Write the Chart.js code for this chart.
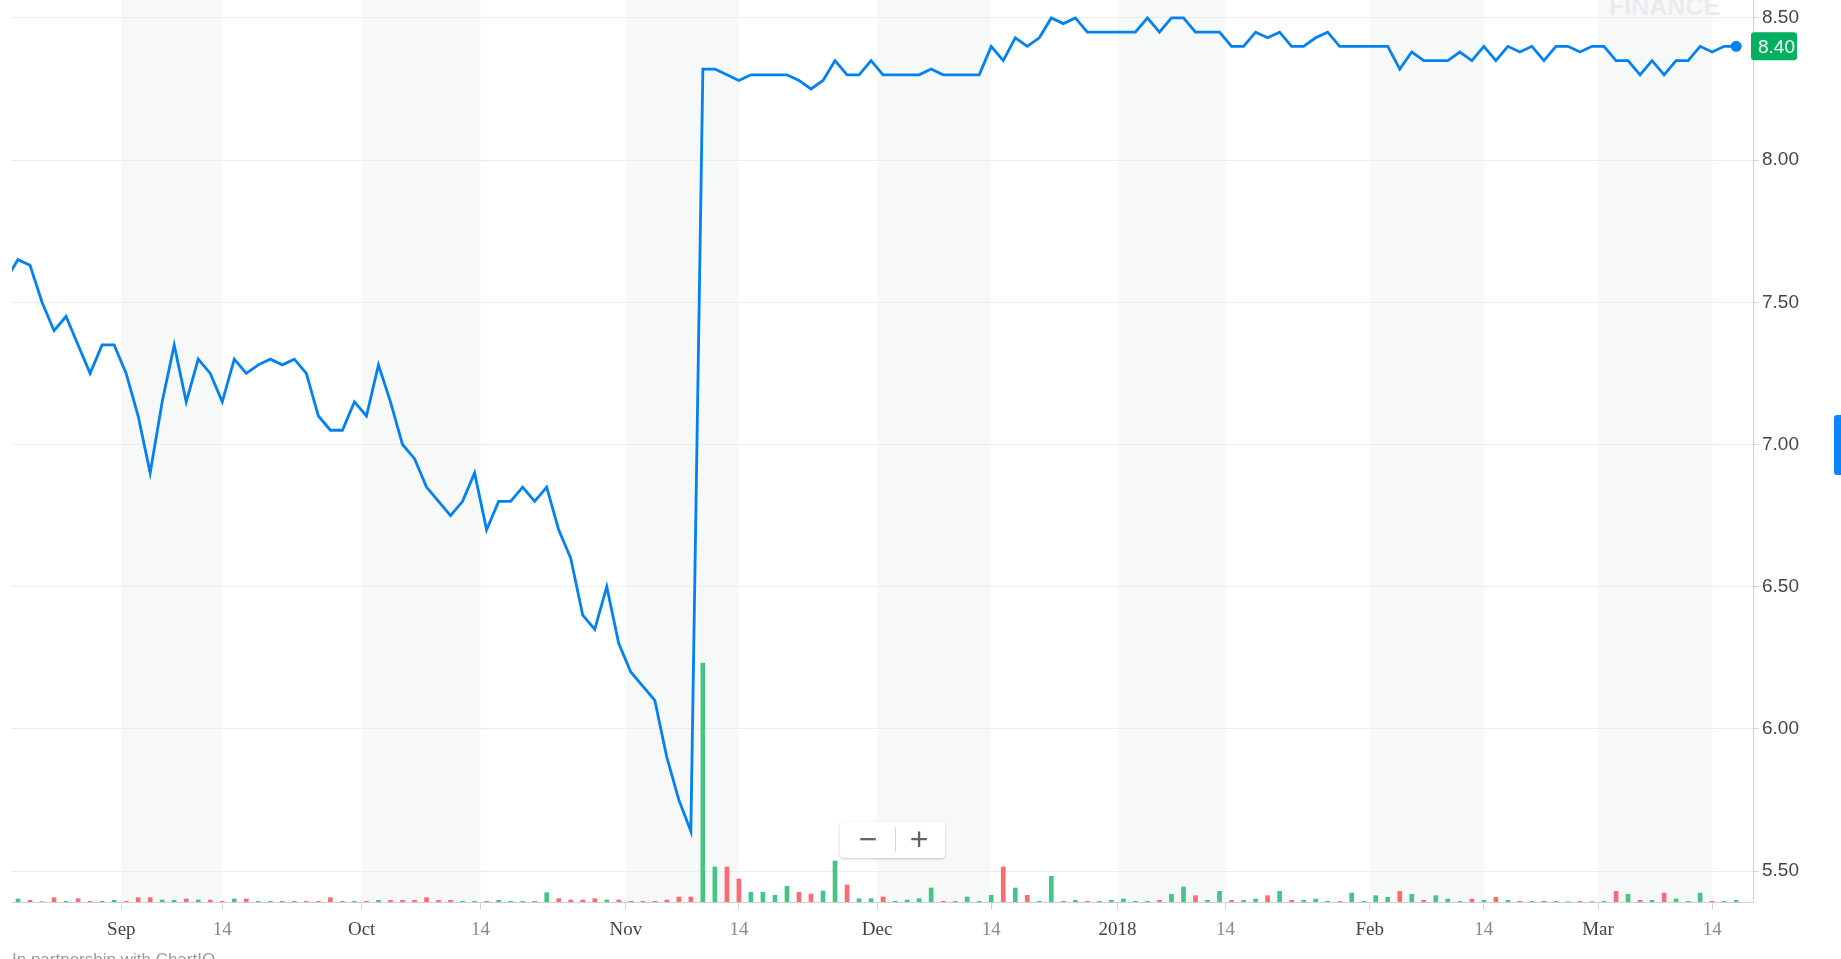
<!DOCTYPE html>
<html>
<head>
<meta charset="utf-8">
<script src="https://cdn.jsdelivr.net/npm/chart.js@4.4.1/dist/chart.umd.min.js"></script>
<style>
  html, body { margin: 0; padding: 0; background: #fff; overflow: hidden; }
  #wrap { position: relative; width: 1841px; height: 959px; }
  #chart { position: absolute; left: 0; top: 0; }
  .mark { position: absolute; font-family: "Liberation Sans", Arial, sans-serif; }
  #watermark { left: 1609px; top: -6px; font-size: 25px; line-height: 25px; font-weight: bold; color: #e9ebee; }
  #partner { left: 12px; top: 951px; font-size: 17px; line-height: 17px; color: #9a9a9a; }
  #zoomctl { left: 840px; top: 822px; width: 105px; height: 36px; background: #fff; border-radius: 4px;
             box-shadow: 0 1px 3px rgba(0,0,0,.22); }
  #zoomctl span { position: absolute; top: 0; height: 36px; line-height: 34px; text-align: center;
                  font-size: 32px; color: #5f6368; }
  #zoomctl .sep { position: absolute; left: 55px; top: 5px; width: 1px; height: 25px; background: #d6d6d6; }
  #tab { position: absolute; left: 1834px; top: 415px; width: 7px; height: 60px; background: #0a84ff; border-radius: 3px 0 0 3px; }
</style>
</head>
<body>
<div id="wrap">
  <canvas id="chart" width="1841" height="959"></canvas>
  <div class="mark" id="watermark">FINANCE</div>
  <div class="mark" id="partner">In partnership with ChartIQ</div>
  <div class="mark" id="zoomctl"><span style="left:6px;width:44px">−</span><div class="sep"></div><span style="left:57px;width:44px">+</span></div>
  <div id="tab"></div>
</div>
<script>
// trading days shown (first one is cut off by the left edge)
var dates = [
  '2017-08-18','2017-08-21','2017-08-22','2017-08-23','2017-08-24','2017-08-25','2017-08-28','2017-08-29','2017-08-30','2017-08-31',
  '2017-09-01','2017-09-05','2017-09-06','2017-09-07','2017-09-08','2017-09-11','2017-09-12','2017-09-13','2017-09-14','2017-09-15',
  '2017-09-18','2017-09-19','2017-09-20','2017-09-21','2017-09-22','2017-09-25','2017-09-26','2017-09-27','2017-09-28','2017-09-29',
  '2017-10-02','2017-10-03','2017-10-04','2017-10-05','2017-10-06','2017-10-09','2017-10-10','2017-10-11','2017-10-12','2017-10-13',
  '2017-10-16','2017-10-17','2017-10-18','2017-10-19','2017-10-20','2017-10-23','2017-10-24','2017-10-25','2017-10-26','2017-10-27',
  '2017-10-30','2017-10-31','2017-11-01','2017-11-02','2017-11-03','2017-11-06','2017-11-07','2017-11-08','2017-11-09','2017-11-10',
  '2017-11-13','2017-11-14','2017-11-15','2017-11-16','2017-11-17','2017-11-20','2017-11-21','2017-11-22','2017-11-24','2017-11-27',
  '2017-11-28','2017-11-29','2017-11-30','2017-12-01','2017-12-04','2017-12-05','2017-12-06','2017-12-07','2017-12-08','2017-12-11',
  '2017-12-12','2017-12-13','2017-12-14','2017-12-15','2017-12-18','2017-12-19','2017-12-20','2017-12-21','2017-12-22','2017-12-26',
  '2017-12-27','2017-12-28','2017-12-29','2018-01-02','2018-01-03','2018-01-04','2018-01-05','2018-01-08','2018-01-09','2018-01-10',
  '2018-01-11','2018-01-12','2018-01-16','2018-01-17','2018-01-18','2018-01-19','2018-01-22','2018-01-23','2018-01-24','2018-01-25',
  '2018-01-26','2018-01-29','2018-01-30','2018-01-31','2018-02-01','2018-02-02','2018-02-05','2018-02-06','2018-02-07','2018-02-08',
  '2018-02-09','2018-02-12','2018-02-13','2018-02-14','2018-02-15','2018-02-16','2018-02-20','2018-02-21','2018-02-22','2018-02-23',
  '2018-02-26','2018-02-27','2018-02-28','2018-03-01','2018-03-02','2018-03-05','2018-03-06','2018-03-07','2018-03-08','2018-03-09',
  '2018-03-12','2018-03-13','2018-03-14','2018-03-15','2018-03-16'
];

var closes = [
  7.58, 7.65, 7.63, 7.50, 7.40, 7.45, 7.35, 7.25, 7.35, 7.35,
  7.25, 7.10, 6.90, 7.15, 7.35, 7.15, 7.30, 7.25, 7.15, 7.30,
  7.25, 7.28, 7.30, 7.28, 7.30, 7.25, 7.10, 7.05, 7.05, 7.15,
  7.10, 7.28, 7.15, 7.00, 6.95, 6.85, 6.80, 6.75, 6.80, 6.90,
  6.70, 6.80, 6.80, 6.85, 6.80, 6.85, 6.70, 6.60, 6.40, 6.35,
  6.50, 6.30, 6.20, 6.15, 6.10, 5.90, 5.75, 5.64, 8.32, 8.32,
  8.30, 8.28, 8.30, 8.30, 8.30, 8.30, 8.28, 8.25, 8.28, 8.35,
  8.30, 8.30, 8.35, 8.30, 8.30, 8.30, 8.30, 8.32, 8.30, 8.30,
  8.30, 8.30, 8.40, 8.35, 8.43, 8.40, 8.43, 8.50, 8.48, 8.50,
  8.45, 8.45, 8.45, 8.45, 8.45, 8.50, 8.45, 8.50, 8.50, 8.45,
  8.45, 8.45, 8.40, 8.40, 8.45, 8.43, 8.45, 8.40, 8.40, 8.43,
  8.45, 8.40, 8.40, 8.40, 8.40, 8.40, 8.32, 8.38, 8.35, 8.35,
  8.35, 8.38, 8.35, 8.40, 8.35, 8.40, 8.38, 8.40, 8.35, 8.40,
  8.40, 8.38, 8.40, 8.40, 8.35, 8.35, 8.30, 8.35, 8.30, 8.35,
  8.35, 8.40, 8.38, 8.40, 8.40
];

// volume, thousands of shares (rough)
var volumes = [
    5,  30,  17,   3,  43,   7,  33,   7,   7,  17,
    7,  43,  43,  20,  17,  30,  20,  20,   7,  30,
   30,   7,   7,   7,   7,   7,   7,  43,   7,   7,
    7,  17,  17,  17,  17,  43,  17,  17,   7,   7,
    7,  17,   7,   7,   7,  93,  33,  20,  20,  33,
   20,  20,   7,   7,   7,  20,  50,  50,2390, 350,
  350, 230,  97,  97,  67, 157,  97,  80, 110, 410,
  170,  33,  33,  50,   7,  20,  33, 140,   7,   7,
   50,   7,  67, 350, 140,  67,   7, 257,   7,  17,
    7,   7,  17,  30,   7,   7,  17,  77, 150,  63,
   17, 107,  17,  17,  30,  63, 107,  17,  17,  30,
    7,   7,  90,   7,  63,  47, 107,  77,  17,  63,
   30,   7,  30,  17,  47,  17,   7,   7,   7,   7,
    3,   7,   3,   7, 107,  77,  17,  17,  90,  30,
    7,  90,   7,   7,  17
];

// x axis labels, positions given as trading-day index
var tickLabels = ['Sep', '14', 'Oct', '14', 'Nov', '14', 'Dec', '14', '2018', '14', 'Feb', '14', 'Mar', '14'];
var tickPos    = [9.6, 18, 29.6, 39.5, 51.6, 61, 72.5, 82, 92.5, 101.5, 113.5, 123, 132.5, 142];
var priceTicks = [5.5, 6.0, 6.5, 7.0, 7.5, 8.0, 8.5];

var upColor = '#45c486', downColor = '#ff6b72', lineColor = '#0081f2';

var volColors = volumes.map(function(v, i) {
  return (i === 0 || closes[i] >= closes[i - 1]) ? upColor : downColor;
});

// light bands from the 1st to the 14th of each month
var monthBands = {
  id: 'monthBands',
  beforeDraw: function(chart) {
    var ctx = chart.ctx, a = chart.chartArea, x = chart.scales.x;
    ctx.save();
    ctx.fillStyle = '#f7f8f8';
    for (var i = 0; i < tickPos.length; i += 2) {
      var x0 = x.getPixelForValue(tickPos[i]), x1 = x.getPixelForValue(tickPos[i + 1]);
      ctx.fillRect(x0, a.top, x1 - x0, a.bottom - a.top);
    }
    ctx.restore();
  }
};

// green last-price tag on the axis
var lastPriceTag = {
  id: 'lastPriceTag',
  afterDraw: function(chart) {
    var ctx = chart.ctx, a = chart.chartArea;
    var last = closes[closes.length - 1];
    var y = chart.scales.y.getPixelForValue(last);
    var x0 = a.right - 2, w = 46, h = 28;
    ctx.save();
    ctx.fillStyle = '#00b061';
    ctx.beginPath();
    ctx.roundRect(x0, y - h / 2, w, h, 3);
    ctx.fill();
    ctx.fillStyle = '#fff';
    ctx.font = '19px "Liberation Sans"';
    ctx.textBaseline = 'middle';
    ctx.textAlign = 'left';
    ctx.fillText(last.toFixed(2), x0 + 7, y + 1);
    ctx.restore();
  }
};

var ctx = document.getElementById('chart').getContext('2d');
var chart = new Chart(ctx, {
  data: {
    datasets: [{
      type: 'line',
      label: 'Close',
      data: closes.map(function(c, i) { return {x: i, y: c}; }),
      yAxisID: 'y',
      borderColor: lineColor,
      borderWidth: 2.8,
      tension: 0,
      pointRadius: function(c) { return c.dataIndex === closes.length - 1 ? 5.5 : 0; },
      pointBackgroundColor: lineColor,
      pointBorderWidth: 0,
      order: 0
    }, {
      type: 'bar',
      label: 'Volume',
      data: volumes.map(function(v, i) { return {x: i, y: v}; }),
      yAxisID: 'yv',
      backgroundColor: volColors,
      barThickness: 4,
      order: 1
    }]
  },
  options: {
    responsive: false,
    animation: false,
    layout: {autoPadding: false, padding: {left: 12, top: 0, right: 0, bottom: 0}},
    plugins: {
      legend: {display: false},
      tooltip: {callbacks: {title: function(items) { return dates[items[0].dataIndex]; }}}
    },
    scales: {
      x: {
        type: 'linear',
        offset: false,
        min: 0.5,
        max: 145.4,
        afterBuildTicks: function(s) { s.ticks = tickPos.map(function(v) { return {value: v}; }); },
        afterFit: function(s) { s.height = 57; s.paddingLeft = 0; s.paddingRight = 0; },
        grid: {offset: false, drawOnChartArea: false, drawTicks: true, tickLength: 7, tickColor: '#cfd1d4'},
        border: {color: '#cfd1d4', width: 1},
        ticks: {
          autoSkip: false,
          maxRotation: 0,
          padding: 10,
          font: {family: 'Liberation Serif', size: 19},
          color: function(c) { return tickLabels[c.index] === '14' ? '#8a8a8a' : '#444444'; },
          callback: function(v, i) { return tickLabels[i]; }
        }
      },
      y: {
        position: 'right',
        min: 5.391,
        max: 8.563,
        afterBuildTicks: function(s) { s.ticks = priceTicks.map(function(v) { return {value: v}; }); },
        afterFit: function(s) { s.width = 88; s.paddingTop = 0; s.paddingBottom = 0; },
        grid: {color: '#ededed', tickLength: 6, tickColor: '#cfd1d4'},
        border: {color: '#cfd1d4', width: 1},
        ticks: {
          padding: 3,
          font: {family: 'Liberation Sans', size: 19},
          color: '#464646',
          callback: function(v) { return v.toFixed(2); }
        }
      },
      yv: {
        display: false,
        min: 0,
        max: 9023
      }
    }
  },
  plugins: [monthBands, lastPriceTag]
});
</script>
</body>
</html>
